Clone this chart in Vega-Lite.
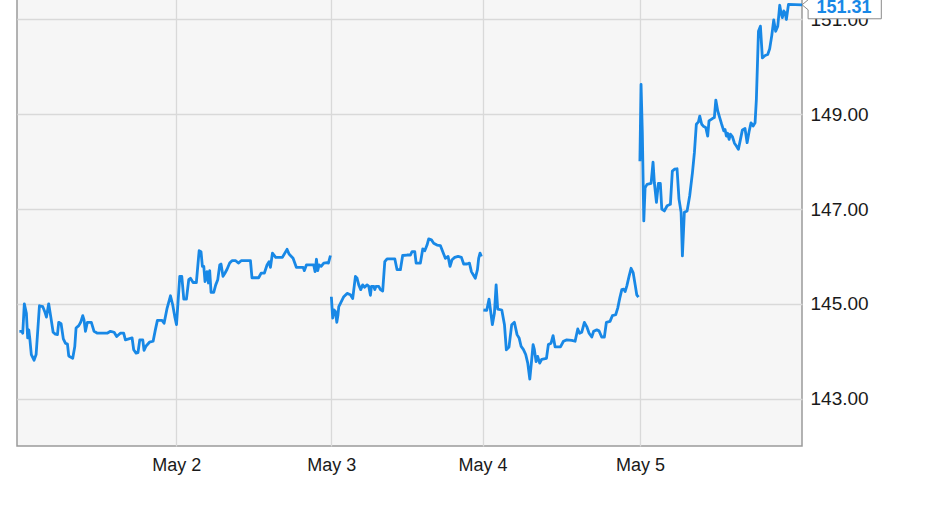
{
  "$schema": "https://vega.github.io/schema/vega-lite/v6.json",
  "width": 785,
  "height": 454,
  "autosize": {"type": "none"},
  "padding": {"left": 17, "top": -8, "right": 129, "bottom": 60},
  "background": "#ffffff",
  "config": {
    "view": {"fill": "#f6f6f6", "stroke": "#9a9a9a", "strokeWidth": 1.5},
    "font": "Arial, Liberation Sans, sans-serif"
  },
  "data": {"values": [
    {"t":1.015,"p":144.42,"s":1},{"t":1.032,"p":144.42,"s":1},{"t":1.036,"p":144.38,"s":1},{"t":1.046,"p":145.00,"s":1},{"t":1.059,"p":144.80,"s":1},{"t":1.067,"p":144.28,"s":1},{"t":1.074,"p":144.45,"s":1},{"t":1.080,"p":144.28,"s":1},{"t":1.090,"p":143.93,"s":1},{"t":1.107,"p":143.81,"s":1},{"t":1.120,"p":143.93,"s":1},{"t":1.141,"p":144.96,"s":1},{"t":1.162,"p":144.94,"s":1},{"t":1.174,"p":144.84,"s":1},{"t":1.185,"p":144.72,"s":1},{"t":1.199,"p":145.00,"s":1},{"t":1.212,"p":144.73,"s":1},{"t":1.227,"p":144.40,"s":1},{"t":1.241,"p":144.36,"s":1},{"t":1.254,"p":144.35,"s":1},{"t":1.262,"p":144.61,"s":1},{"t":1.277,"p":144.58,"s":1},{"t":1.291,"p":144.26,"s":1},{"t":1.304,"p":144.17,"s":1},{"t":1.317,"p":144.15,"s":1},{"t":1.325,"p":143.90,"s":1},{"t":1.350,"p":143.85,"s":1},{"t":1.363,"p":144.10,"s":1},{"t":1.371,"p":144.49,"s":1},{"t":1.388,"p":144.54,"s":1},{"t":1.400,"p":144.61,"s":1},{"t":1.413,"p":144.75,"s":1},{"t":1.421,"p":144.66,"s":1},{"t":1.430,"p":144.42,"s":1},{"t":1.442,"p":144.61,"s":1},{"t":1.467,"p":144.61,"s":1},{"t":1.484,"p":144.42,"s":1},{"t":1.505,"p":144.38,"s":1},{"t":1.566,"p":144.38,"s":1},{"t":1.587,"p":144.42,"s":1},{"t":1.610,"p":144.40,"s":1},{"t":1.626,"p":144.31,"s":1},{"t":1.649,"p":144.38,"s":1},{"t":1.670,"p":144.38,"s":1},{"t":1.681,"p":144.24,"s":1},{"t":1.702,"p":144.26,"s":1},{"t":1.723,"p":144.28,"s":1},{"t":1.733,"p":144.03,"s":1},{"t":1.748,"p":143.96,"s":1},{"t":1.760,"p":143.97,"s":1},{"t":1.771,"p":144.24,"s":1},{"t":1.790,"p":144.24,"s":1},{"t":1.798,"p":144.02,"s":1},{"t":1.811,"p":144.11,"s":1},{"t":1.832,"p":144.19,"s":1},{"t":1.855,"p":144.21,"s":1},{"t":1.869,"p":144.45,"s":1},{"t":1.882,"p":144.65,"s":1},{"t":1.911,"p":144.65,"s":1},{"t":1.924,"p":144.59,"s":1},{"t":1.943,"p":144.91,"s":1},{"t":1.964,"p":145.17,"s":1},{"t":1.978,"p":144.98,"s":1},{"t":1.991,"p":144.73,"s":1},{"t":2.002,"p":144.56,"s":1},
    {"t":2.023,"p":145.58,"s":1},{"t":2.036,"p":145.58,"s":1},{"t":2.049,"p":145.10,"s":1},{"t":2.066,"p":145.10,"s":1},{"t":2.081,"p":145.51,"s":1},{"t":2.092,"p":145.54,"s":1},{"t":2.109,"p":145.45,"s":1},{"t":2.130,"p":145.45,"s":1},{"t":2.148,"p":146.12,"s":1},{"t":2.160,"p":146.10,"s":1},{"t":2.169,"p":145.79,"s":1},{"t":2.178,"p":145.79,"s":1},{"t":2.186,"p":145.47,"s":1},{"t":2.199,"p":145.68,"s":1},{"t":2.208,"p":145.44,"s":1},{"t":2.216,"p":145.70,"s":1},{"t":2.225,"p":145.24,"s":1},{"t":2.242,"p":145.24,"s":1},{"t":2.255,"p":145.40,"s":1},{"t":2.268,"p":145.51,"s":1},{"t":2.281,"p":145.82,"s":1},{"t":2.289,"p":145.84,"s":1},{"t":2.302,"p":145.58,"s":1},{"t":2.315,"p":145.65,"s":1},{"t":2.328,"p":145.73,"s":1},{"t":2.345,"p":145.86,"s":1},{"t":2.360,"p":145.91,"s":1},{"t":2.384,"p":145.91,"s":1},{"t":2.401,"p":145.86,"s":1},{"t":2.419,"p":145.91,"s":1},{"t":2.479,"p":145.91,"s":1},{"t":2.489,"p":145.55,"s":1},{"t":2.532,"p":145.55,"s":1},{"t":2.548,"p":145.65,"s":1},{"t":2.569,"p":145.65,"s":1},{"t":2.586,"p":145.82,"s":1},{"t":2.599,"p":145.89,"s":1},{"t":2.608,"p":145.77,"s":1},{"t":2.621,"p":146.07,"s":1},{"t":2.642,"p":145.98,"s":1},{"t":2.685,"p":145.98,"s":1},{"t":2.715,"p":146.15,"s":1},{"t":2.728,"p":146.05,"s":1},{"t":2.754,"p":145.96,"s":1},{"t":2.775,"p":145.77,"s":1},{"t":2.819,"p":145.77,"s":1},{"t":2.827,"p":145.70,"s":1},{"t":2.840,"p":145.82,"s":1},{"t":2.887,"p":145.82,"s":1},{"t":2.896,"p":145.68,"s":1},{"t":2.905,"p":145.94,"s":1},{"t":2.913,"p":145.70,"s":1},{"t":2.922,"p":145.82,"s":1},{"t":2.935,"p":145.79,"s":1},{"t":2.952,"p":145.86,"s":1},{"t":2.973,"p":145.87,"s":1},{"t":2.982,"p":145.86,"s":1},{"t":2.995,"p":146.02,"s":1},
    {"t":3.001,"p":145.15,"s":2},{"t":3.010,"p":144.70,"s":2},{"t":3.019,"p":144.87,"s":2},{"t":3.028,"p":144.84,"s":2},{"t":3.037,"p":144.61,"s":2},{"t":3.045,"p":144.77,"s":2},{"t":3.050,"p":144.94,"s":2},{"t":3.061,"p":145.01,"s":2},{"t":3.083,"p":145.15,"s":2},{"t":3.105,"p":145.22,"s":2},{"t":3.127,"p":145.19,"s":2},{"t":3.142,"p":145.11,"s":2},{"t":3.160,"p":145.58,"s":2},{"t":3.171,"p":145.54,"s":2},{"t":3.182,"p":145.40,"s":2},{"t":3.195,"p":145.30,"s":2},{"t":3.208,"p":145.40,"s":2},{"t":3.221,"p":145.35,"s":2},{"t":3.237,"p":145.40,"s":2},{"t":3.248,"p":145.37,"s":2},{"t":3.259,"p":145.18,"s":2},{"t":3.266,"p":145.37,"s":2},{"t":3.281,"p":145.37,"s":2},{"t":3.288,"p":145.30,"s":2},{"t":3.296,"p":145.37,"s":2},{"t":3.314,"p":145.37,"s":2},{"t":3.325,"p":145.30,"s":2},{"t":3.340,"p":145.27,"s":2},{"t":3.354,"p":145.89,"s":2},{"t":3.369,"p":145.95,"s":2},{"t":3.420,"p":145.95,"s":2},{"t":3.435,"p":145.72,"s":2},{"t":3.457,"p":145.72,"s":2},{"t":3.472,"p":146.02,"s":2},{"t":3.501,"p":146.03,"s":2},{"t":3.523,"p":146.03,"s":2},{"t":3.534,"p":146.10,"s":2},{"t":3.552,"p":146.10,"s":2},{"t":3.561,"p":145.86,"s":2},{"t":3.589,"p":145.86,"s":2},{"t":3.605,"p":146.16,"s":2},{"t":3.618,"p":146.12,"s":2},{"t":3.633,"p":146.24,"s":2},{"t":3.644,"p":146.37,"s":2},{"t":3.662,"p":146.35,"s":2},{"t":3.677,"p":146.28,"s":2},{"t":3.699,"p":146.24,"s":2},{"t":3.721,"p":146.23,"s":2},{"t":3.737,"p":146.10,"s":2},{"t":3.754,"p":145.96,"s":2},{"t":3.772,"p":146.00,"s":2},{"t":3.785,"p":145.79,"s":2},{"t":3.798,"p":145.93,"s":2},{"t":3.816,"p":145.98,"s":2},{"t":3.838,"p":146.00,"s":2},{"t":3.860,"p":145.98,"s":2},{"t":3.875,"p":145.84,"s":2},{"t":3.897,"p":145.84,"s":2},{"t":3.913,"p":145.86,"s":2},{"t":3.926,"p":145.68,"s":2},{"t":3.939,"p":145.61,"s":2},{"t":3.952,"p":145.54,"s":2},{"t":3.966,"p":145.72,"s":2},{"t":3.974,"p":145.96,"s":2},{"t":3.983,"p":146.07,"s":2},{"t":3.992,"p":146.00,"s":2},
    {"t":4.005,"p":144.87,"s":3},{"t":4.026,"p":144.86,"s":3},{"t":4.041,"p":145.10,"s":3},{"t":4.054,"p":144.77,"s":3},{"t":4.062,"p":144.56,"s":3},{"t":4.075,"p":144.80,"s":3},{"t":4.086,"p":145.40,"s":3},{"t":4.096,"p":144.89,"s":3},{"t":4.122,"p":144.87,"s":3},{"t":4.139,"p":144.56,"s":3},{"t":4.151,"p":144.03,"s":3},{"t":4.168,"p":144.09,"s":3},{"t":4.185,"p":144.56,"s":3},{"t":4.202,"p":144.61,"s":3},{"t":4.219,"p":144.35,"s":3},{"t":4.232,"p":144.28,"s":3},{"t":4.245,"p":144.10,"s":3},{"t":4.259,"p":144.04,"s":3},{"t":4.274,"p":143.93,"s":3},{"t":4.287,"p":143.75,"s":3},{"t":4.300,"p":143.41,"s":3},{"t":4.312,"p":143.82,"s":3},{"t":4.321,"p":144.14,"s":3},{"t":4.329,"p":144.04,"s":3},{"t":4.340,"p":143.78,"s":3},{"t":4.350,"p":143.89,"s":3},{"t":4.363,"p":143.75,"s":3},{"t":4.376,"p":143.83,"s":3},{"t":4.406,"p":143.85,"s":3},{"t":4.418,"p":144.14,"s":3},{"t":4.435,"p":144.17,"s":3},{"t":4.448,"p":144.33,"s":3},{"t":4.461,"p":144.09,"s":3},{"t":4.495,"p":144.09,"s":3},{"t":4.514,"p":144.21,"s":3},{"t":4.535,"p":144.24,"s":3},{"t":4.567,"p":144.23,"s":3},{"t":4.588,"p":144.21,"s":3},{"t":4.605,"p":144.47,"s":3},{"t":4.617,"p":144.38,"s":3},{"t":4.630,"p":144.40,"s":3},{"t":4.647,"p":144.61,"s":3},{"t":4.662,"p":144.52,"s":3},{"t":4.677,"p":144.38,"s":3},{"t":4.694,"p":144.30,"s":3},{"t":4.706,"p":144.42,"s":3},{"t":4.726,"p":144.45,"s":3},{"t":4.740,"p":144.43,"s":3},{"t":4.757,"p":144.30,"s":3},{"t":4.774,"p":144.30,"s":3},{"t":4.787,"p":144.61,"s":3},{"t":4.810,"p":144.63,"s":3},{"t":4.825,"p":144.75,"s":3},{"t":4.846,"p":144.77,"s":3},{"t":4.859,"p":144.91,"s":3},{"t":4.872,"p":145.12,"s":3},{"t":4.885,"p":145.30,"s":3},{"t":4.897,"p":145.31,"s":3},{"t":4.906,"p":145.26,"s":3},{"t":4.917,"p":145.38,"s":3},{"t":4.931,"p":145.58,"s":3},{"t":4.944,"p":145.75,"s":3},{"t":4.957,"p":145.66,"s":3},{"t":4.970,"p":145.40,"s":3},{"t":4.980,"p":145.19,"s":3},{"t":4.991,"p":145.14,"s":3},
    {"t":5.000,"p":148.01,"s":4},{"t":5.007,"p":149.63,"s":4},{"t":5.015,"p":148.61,"s":4},{"t":5.024,"p":146.75,"s":4},{"t":5.032,"p":147.45,"s":4},{"t":5.044,"p":147.52,"s":4},{"t":5.069,"p":147.54,"s":4},{"t":5.081,"p":147.99,"s":4},{"t":5.089,"p":147.56,"s":4},{"t":5.102,"p":147.14,"s":4},{"t":5.114,"p":147.54,"s":4},{"t":5.126,"p":147.54,"s":4},{"t":5.135,"p":147.00,"s":4},{"t":5.151,"p":146.96,"s":4},{"t":5.168,"p":147.07,"s":4},{"t":5.188,"p":147.10,"s":4},{"t":5.200,"p":147.80,"s":4},{"t":5.213,"p":147.84,"s":4},{"t":5.229,"p":147.85,"s":4},{"t":5.241,"p":147.21,"s":4},{"t":5.254,"p":146.93,"s":4},{"t":5.262,"p":146.01,"s":4},{"t":5.274,"p":146.93,"s":4},{"t":5.291,"p":146.96,"s":4},{"t":5.307,"p":147.28,"s":4},{"t":5.324,"p":147.77,"s":4},{"t":5.336,"p":148.19,"s":4},{"t":5.348,"p":148.79,"s":4},{"t":5.361,"p":148.84,"s":4},{"t":5.369,"p":148.96,"s":4},{"t":5.381,"p":148.79,"s":4},{"t":5.394,"p":148.74,"s":4},{"t":5.406,"p":148.72,"s":4},{"t":5.418,"p":148.54,"s":4},{"t":5.426,"p":148.86,"s":4},{"t":5.447,"p":148.91,"s":4},{"t":5.459,"p":148.93,"s":4},{"t":5.468,"p":149.30,"s":4},{"t":5.480,"p":149.07,"s":4},{"t":5.492,"p":148.93,"s":4},{"t":5.504,"p":148.79,"s":4},{"t":5.517,"p":148.65,"s":4},{"t":5.525,"p":148.68,"s":4},{"t":5.533,"p":148.54,"s":4},{"t":5.541,"p":148.60,"s":4},{"t":5.550,"p":148.47,"s":4},{"t":5.558,"p":148.58,"s":4},{"t":5.570,"p":148.53,"s":4},{"t":5.583,"p":148.39,"s":4},{"t":5.595,"p":148.33,"s":4},{"t":5.607,"p":148.26,"s":4},{"t":5.620,"p":148.47,"s":4},{"t":5.632,"p":148.67,"s":4},{"t":5.648,"p":148.70,"s":4},{"t":5.661,"p":148.40,"s":4},{"t":5.673,"p":148.63,"s":4},{"t":5.685,"p":148.82,"s":4},{"t":5.698,"p":148.75,"s":4},{"t":5.710,"p":148.82,"s":4},{"t":5.718,"p":149.31,"s":4},{"t":5.731,"p":150.75,"s":4},{"t":5.743,"p":150.86,"s":4},{"t":5.755,"p":150.19,"s":4},{"t":5.772,"p":150.24,"s":4},{"t":5.788,"p":150.26,"s":4},{"t":5.800,"p":150.38,"s":4},{"t":5.813,"p":150.66,"s":4},{"t":5.825,"p":150.99,"s":4},{"t":5.837,"p":150.75,"s":4},{"t":5.850,"p":150.86,"s":4},{"t":5.862,"p":151.30,"s":4},{"t":5.870,"p":151.14,"s":4},{"t":5.878,"p":151.04,"s":4},{"t":5.887,"p":151.18,"s":4},{"t":5.895,"p":151.14,"s":4},{"t":5.903,"p":151.00,"s":4},{"t":5.916,"p":151.32,"s":4},{"t":6.000,"p":151.31,"s":4}
  ]},
  "encoding": {
    "x": {
      "field": "t", "type": "quantitative",
      "scale": {"domain": [1, 2, 3, 4, 5, 6], "range": [0, 159.2, 314.2, 465.6, 622.9, 785.1], "nice": false, "zero": false},
      "axis": {
        "title": null, "values": [2, 3, 4, 5],
        "labelExpr": "'May ' + datum.value",
        "grid": true, "gridColor": "#d9d9d9", "gridWidth": 1.3,
        "ticks": false, "domain": false,
        "labelFontSize": 18, "labelColor": "#1a1a1a", "labelPadding": 10,
        "labelFont": "Arial, Liberation Sans, sans-serif"
      }
    },
    "y": {
      "field": "p", "type": "quantitative",
      "scale": {"domain": [142.0, 151.58], "nice": false, "zero": false},
      "axis": {
        "title": null, "orient": "right", "values": [143, 145, 147, 149, 151],
        "format": ".2f",
        "grid": true, "gridColor": "#d9d9d9", "gridWidth": 1.3,
        "ticks": false, "domain": false,
        "labelFontSize": 19, "labelColor": "#1a1a1a", "labelPadding": 8,
        "labelFont": "Arial, Liberation Sans, sans-serif"
      }
    }
  },
  "layer": [
    {
      "mark": {"type": "line", "color": "#1888e6", "strokeWidth": 2.8, "clip": true, "strokeJoin": "round"},
      "encoding": {"detail": {"field": "s"}}
    },
    {
      "transform": [{"filter": {"field": "t", "equal": 6}}],
      "mark": {
        "type": "point",
        "shape": "M0,0 L0.075,-0.0625 L0.075,-0.16 L0.99,-0.16 L0.99,0.175 L0.075,0.175 L0.075,0.0625 Z",
        "size": 25600,
        "filled": true,
        "fill": "#ffffff",
        "fillOpacity": 1,
        "stroke": "#8a8a8a",
        "strokeWidth": 1,
        "opacity": 1
      }
    },
    {
      "transform": [{"filter": {"field": "t", "equal": 6}}],
      "mark": {
        "type": "text", "align": "center", "baseline": "middle",
        "dx": 42, "dy": 3, "fontSize": 18, "fontWeight": "bold",
        "color": "#1888e6", "font": "Arial, Liberation Sans, sans-serif"
      },
      "encoding": {"text": {"field": "p", "type": "quantitative", "format": ".2f"}}
    }
  ]
}
